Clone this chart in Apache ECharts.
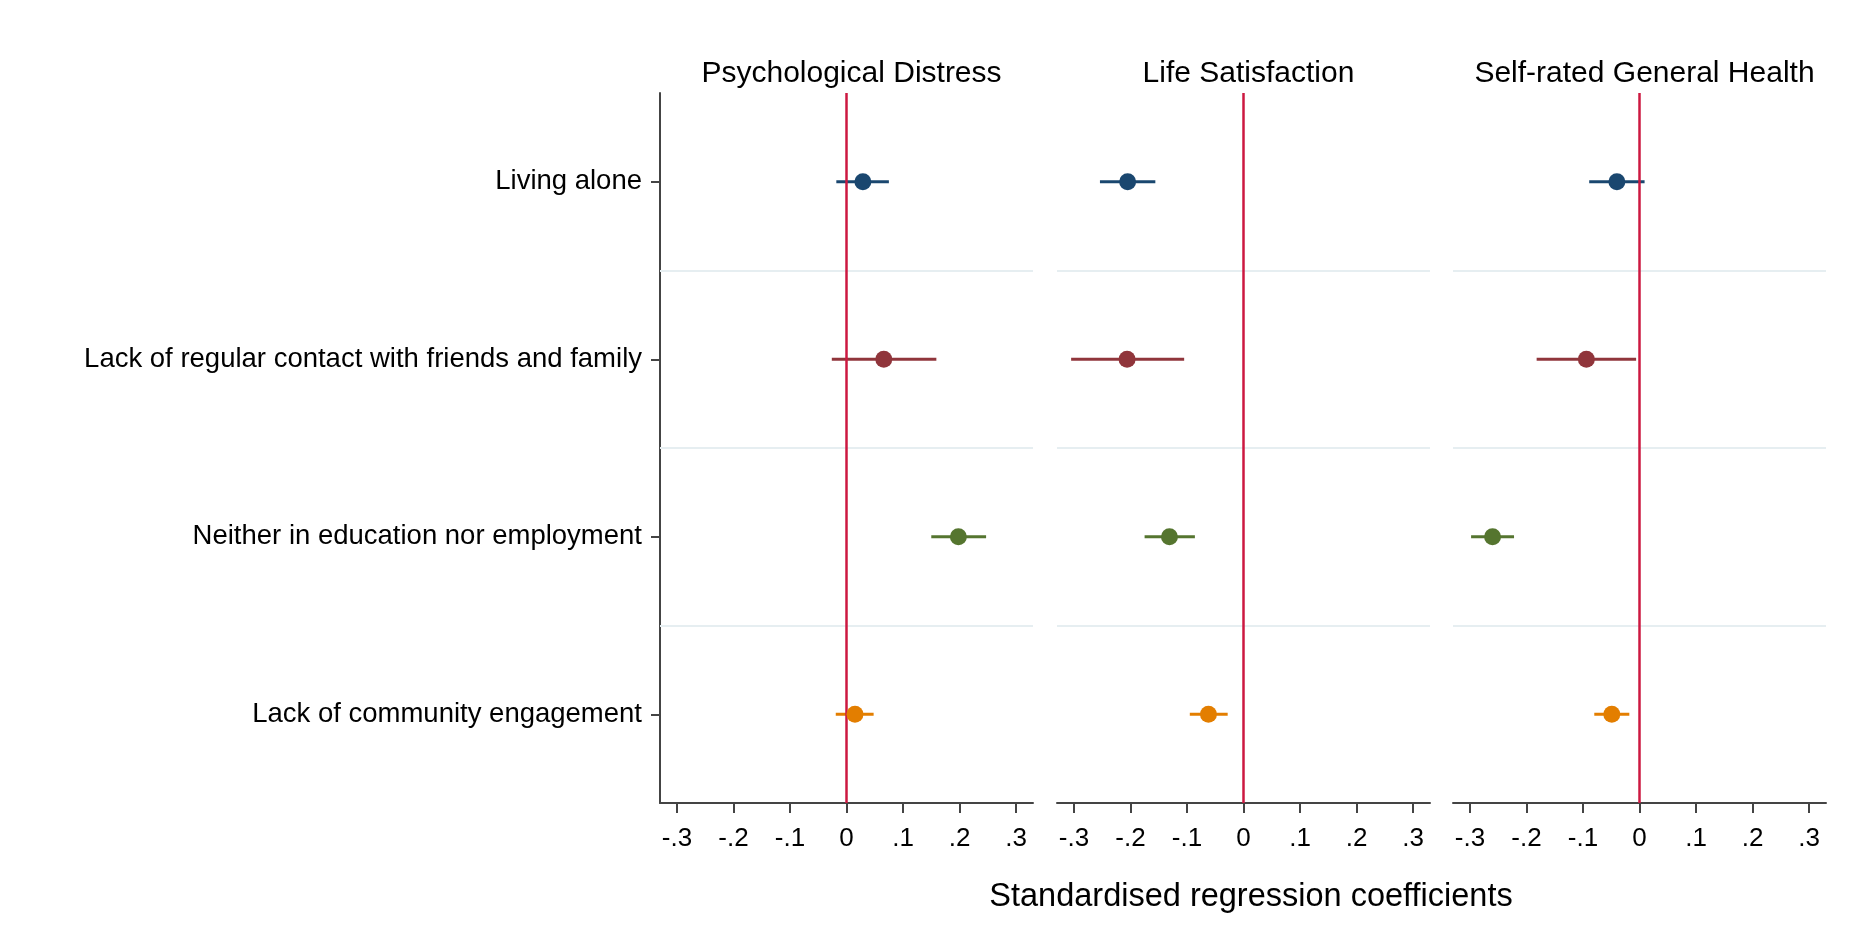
<!DOCTYPE html>
<html>
<head>
<meta charset="utf-8">
<script src="https://cdn.jsdelivr.net/npm/echarts@6/dist/echarts.min.js"></script>
<style>
html, body { margin: 0; padding: 0; background: #ffffff; }
#chart { width: 1868px; height: 936px; }
</style>
</head>
<body>
<div id="chart"></div>
<script>
// ---------- data ----------
const categories = [
  "Living alone",
  "Lack of regular contact with friends and family",
  "Neither in education nor employment",
  "Lack of community engagement"
];
const panelTitles = ["Psychological Distress", "Life Satisfaction", "Self-rated General Health"];
const xAxisTitle = "Standardised regression coefficients";

const psychEst = [0.029, 0.066, 0.198, 0.015];
const psychLo  = [-0.018, -0.026, 0.150, -0.019];
const psychHi  = [0.075, 0.159, 0.247, 0.048];

const lifeEst = [-0.205, -0.206, -0.131, -0.062];
const lifeLo  = [-0.254, -0.305, -0.175, -0.095];
const lifeHi  = [-0.156, -0.105, -0.086, -0.028];

const healthEst = [-0.040, -0.094, -0.260, -0.049];
const healthLo  = [-0.089, -0.182, -0.298, -0.080];
const healthHi  = [0.009, -0.006, -0.222, -0.018];

const xTicks = [-0.3, -0.2, -0.1, 0, 0.1, 0.2, 0.3];
const xTickLabels = ["-.3", "-.2", "-.1", "0", ".1", ".2", ".3"];
const separatorPositions = [1, 2, 3];
const referenceLine = 0;

// ---------- styling ----------
const FONT = "'Liberation Sans', Arial, Helvetica, sans-serif";
const markerColors = ["#1a476f", "#90353b", "#55752f", "#e37e00"];
const axisColor = "#444444";
const refColor = "#cc1840";
const sepColor = "#e6eef1";

const panels = [
  { est: psychEst, lo: psychLo, hi: psychHi },
  { est: lifeEst, lo: lifeLo, hi: lifeHi },
  { est: healthEst, lo: healthLo, hi: healthHi }
];
const gridLefts = [660, 1057, 1453];
const gridWidth = 373;
const gridTop = 93;
const gridHeight = 710;

const grid = [], xAxis = [], yAxis = [], series = [], title = [];

panels.forEach((p, k) => {
  grid.push({ left: gridLefts[k], top: gridTop, width: gridWidth, height: gridHeight, containLabel: false });

  title.push({
    text: panelTitles[k],
    left: gridLefts[k] + gridWidth / 2,
    top: 54,
    textAlign: 'center',
    textStyle: { fontSize: 30, fontWeight: 'normal', color: '#000', fontFamily: FONT }
  });

  xAxis.push({
    gridIndex: k, type: 'value', min: -0.33, max: 0.33,
    axisLine: { show: true, onZero: false, lineStyle: { color: axisColor, width: 2 } },
    axisTick: { show: true, customValues: xTicks, length: 10, inside: false, lineStyle: { color: axisColor, width: 2 } },
    axisLabel: {
      show: true, customValues: xTicks, margin: 23,
      fontSize: 26, color: '#000', fontFamily: FONT,
      formatter: v => {
        const i = xTicks.findIndex(t => Math.abs(t - v) < 1e-9);
        return i >= 0 ? xTickLabels[i] : '';
      }
    },
    splitLine: { show: false }
  });

  // category axis (labels + points)
  yAxis.push({
    gridIndex: k, type: 'category', data: categories, inverse: true, boundaryGap: true,
    axisLine: { show: k === 0, onZero: false, lineStyle: { color: axisColor, width: 2 } },
    axisTick: { show: k === 0, alignWithLabel: true, length: 9, lineStyle: { color: axisColor, width: 2 } },
    axisLabel: { show: k === 0, fontSize: 27.5, lineHeight: 28, color: '#000', margin: 18, fontFamily: FONT, padding: [9, 0, 0, 0] },
    splitLine: { show: false }
  });
  // hidden value axis for category separators
  yAxis.push({
    gridIndex: k, type: 'value', min: 0, max: categories.length, inverse: true, show: false,
    axisLine: { onZero: false },
    splitLine: { show: false }
  });

  const catAxisIdx = 2 * k, valAxisIdx = 2 * k + 1;

  // separators between categories
  series.push({
    type: 'scatter', xAxisIndex: k, yAxisIndex: valAxisIdx, data: [], z: 1, silent: true,
    markLine: {
      silent: true, symbol: ['none', 'none'], label: { show: false },
      lineStyle: { color: sepColor, width: 2, type: 'solid' },
      emphasis: { disabled: true },
      data: separatorPositions.map(v => ({ yAxis: v }))
    }
  });

  // confidence intervals
  series.push({
    type: 'custom', xAxisIndex: k, yAxisIndex: catAxisIdx, z: 3, silent: true,
    data: categories.map((c, i) => [p.lo[i], p.hi[i], i]),
    encode: { x: [0, 1], y: 2 },
    renderItem: (params, api) => {
      const yv = api.value(2);
      const a = api.coord([api.value(0), yv]);
      const b = api.coord([api.value(1), yv]);
      return {
        type: 'line',
        shape: { x1: a[0], y1: a[1], x2: b[0], y2: b[1] },
        style: { stroke: markerColors[params.dataIndex], lineWidth: 3 }
      };
    }
  });

  // reference line at zero
  series.push({
    type: 'scatter', xAxisIndex: k, yAxisIndex: catAxisIdx, data: [], z: 4, silent: true,
    markLine: {
      silent: true, symbol: ['none', 'none'], label: { show: false },
      lineStyle: { color: refColor, width: 2.5, type: 'solid' },
      emphasis: { disabled: true },
      data: [{ xAxis: referenceLine }]
    }
  });

  // point estimates
  series.push({
    type: 'scatter', xAxisIndex: k, yAxisIndex: catAxisIdx, z: 5, silent: true,
    symbol: 'circle', symbolSize: 17,
    data: p.est.map((v, i) => ({ value: [v, i], itemStyle: { color: markerColors[i], opacity: 1 } }))
  });
});

title.push({
  text: xAxisTitle,
  left: 1246, top: 876, textAlign: 'center',
  textStyle: { fontSize: 32.5, fontWeight: 'normal', color: '#000', fontFamily: FONT }
});

const chart = echarts.init(document.getElementById('chart'), null, { renderer: 'canvas' });
chart.setOption({
  backgroundColor: '#ffffff',
  animation: false,
  textStyle: { fontFamily: FONT },
  title, grid, xAxis, yAxis, series
});
</script>
</body>
</html>
